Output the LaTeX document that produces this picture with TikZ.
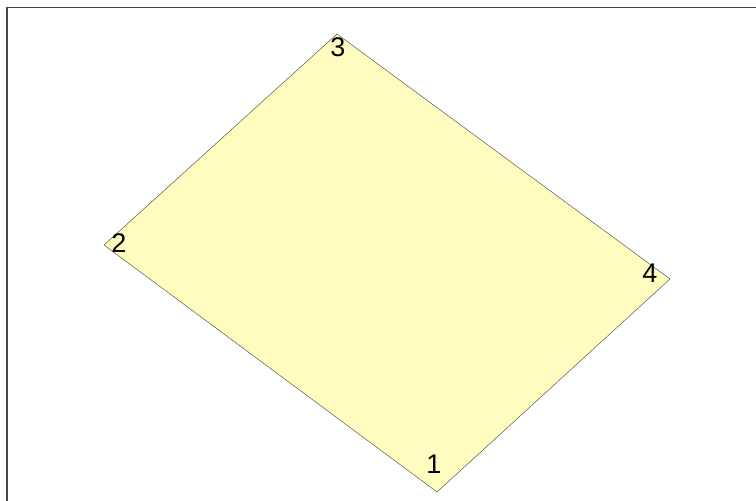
\documentclass[tikz,border=0pt]{standalone}
\usepackage{fontspec}
\setmainfont{Liberation Sans}
\definecolor{quadfill}{RGB}{255,252,192}
\definecolor{edgegray}{RGB}{90,90,80}
\definecolor{framegray}{RGB}{70,70,70}
\tikzset{
  vlabel/.style={font=\fontsize{27}{27}\selectfont, inner sep=0pt, text=black},
  quad/.style={fill=quadfill, draw=edgegray, line width=0.5pt},
  frameline/.style={draw=framegray, line width=1.5pt}
}
\begin{document}
\begin{tikzpicture}[x=1pt,y=1pt]
\useasboundingbox (0,0) rectangle (756,501);
\coordinate (p3) at (337,467);
\coordinate (p2) at (104,256);
\coordinate (p4) at (670,222);
\coordinate (p1) at (437,9);
\coordinate (ftl) at (7,493.5);
\coordinate (ftr) at (756,493.5);
\coordinate (fbl) at (7,0);
\draw[frameline] (ftr) -- (ftl) -- (fbl);
\path[quad] (p1) -- (p2) -- (p3) -- (p4) -- cycle;
\node[vlabel] (l3) at (338,454) {3};
\node[vlabel] (l2) at (119,258) {2};
\node[vlabel] (l4) at (650,228) {4};
\node[vlabel] (l1) at (434,37) {1};
\end{tikzpicture}
\end{document}
